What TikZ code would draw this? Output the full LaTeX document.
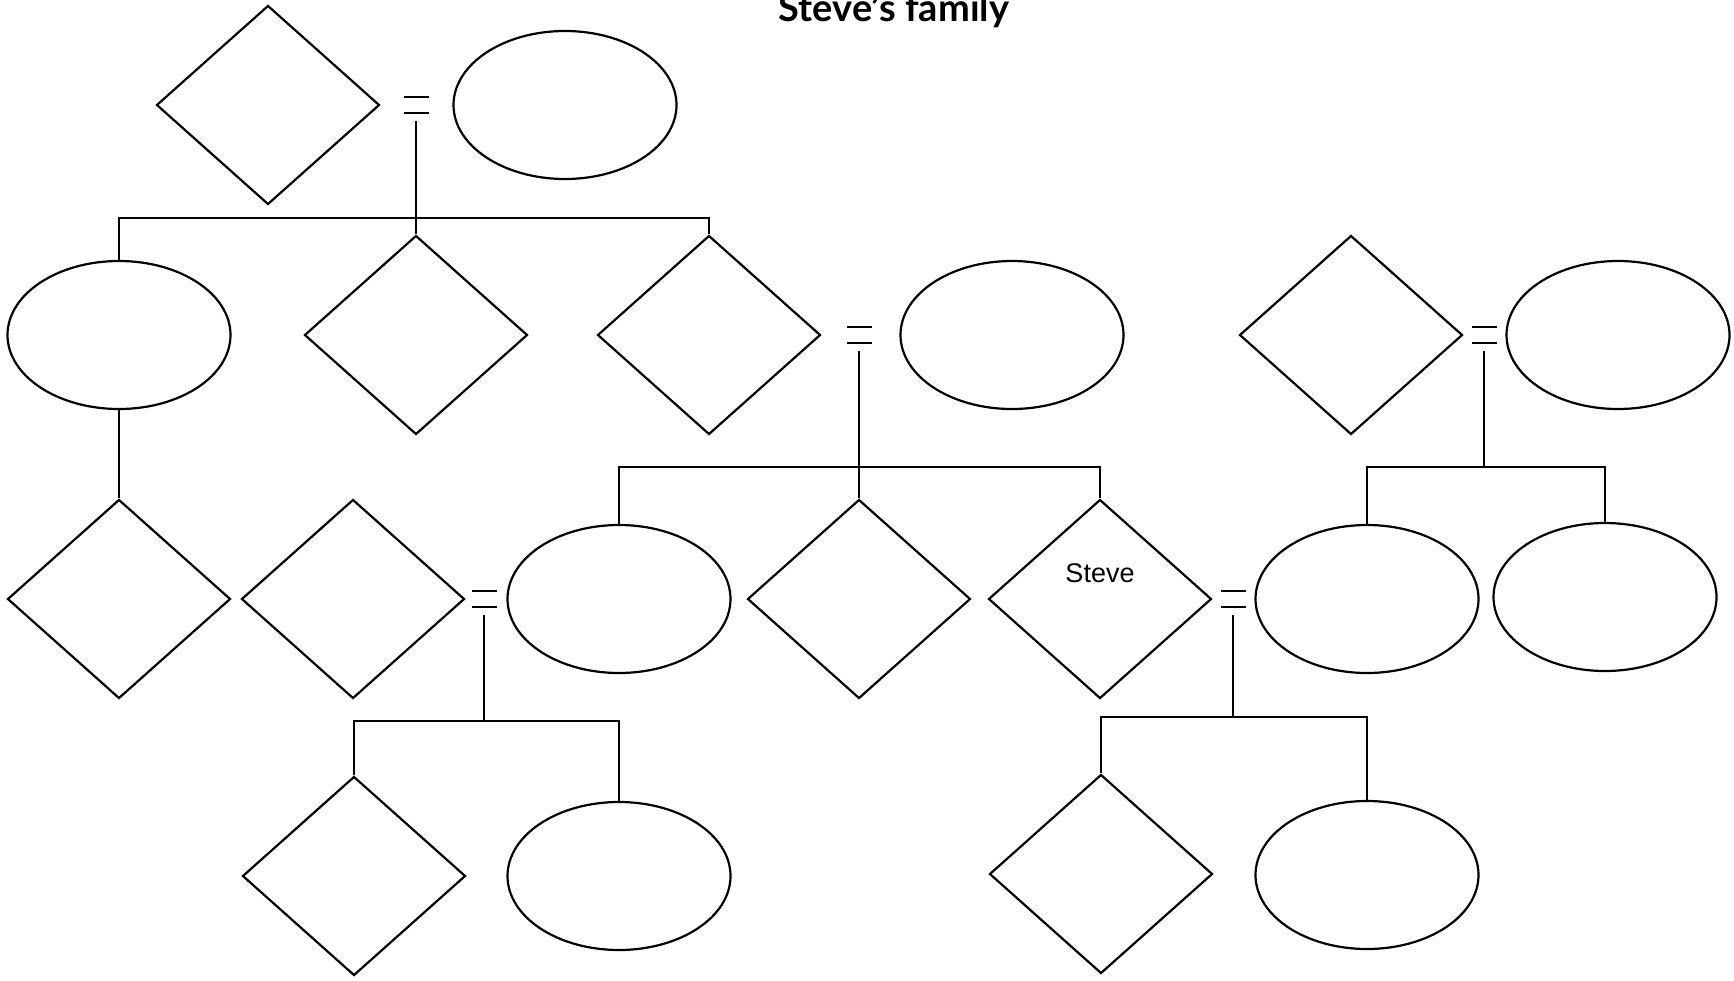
\documentclass[tikz,border=0pt]{standalone}
\usepackage{fontspec}
\setmainfont{Lato}
\newfontfamily\handfont{Liberation Sans}
\usetikzlibrary{shapes.geometric}
\begin{document}
\begin{tikzpicture}[x=1pt,y=-1pt,line width=2.2pt,
  male/.style={draw,diamond,minimum width=223pt,minimum height=199pt,inner sep=0pt},
  female/.style={draw,ellipse,minimum width=223pt,minimum height=148pt,inner sep=0pt},
  eqsign/.pic={\draw[line width=2.2pt] (-12.5,-8.3) -- (12.5,-8.3) (-12.5,8.3) -- (12.5,8.3);}]
\useasboundingbox (0,0) rectangle (1734,980);
\node[font=\bfseries\fontsize{38}{42}\selectfont,anchor=base] (title) at (894,21) {Steve{\char"27}s family};
% generation 1
\node[male] (gf) at (268,105) {};
\node[female] (gm) at (565,105) {};
\coordinate (m1) at (416,105); \pic at (m1) {eqsign};
% generation 2
\node[female] (a1) at (119,335) {};
\node[male] (a2) at (416,335) {};
\node[male] (a3) at (709,335) {};
\coordinate (m2) at (859,335); \pic at (m2) {eqsign};
\node[female] (a3w) at (1012,335) {};
\node[male] (b0) at (1351,335) {};
\coordinate (m3) at (1484,335); \pic at (m3) {eqsign};
\node[female] (b0w) at (1618,335) {};
% generation 3
\node[male] (a1c) at (119,599) {};
\node[male] (c1h) at (353,599) {};
\coordinate (m4) at (484,599); \pic at (m4) {eqsign};
\node[female] (c1) at (619,599) {};
\node[male] (c2) at (859,599) {};
\node[male] (steve) at (1100,599) {};
\node[font=\handfont\fontsize{27}{30}\selectfont] (stevename) at (1100,573) {Steve};
\coordinate (m5) at (1233,599); \pic at (m5) {eqsign};
\node[female] (b1) at (1367,599) {};
\node[female] (b2) at (1605,597) {};
% generation 4
\node[male] (d1) at (354,876) {};
\node[female] (d2) at (619,876) {};
\node[male] (e1) at (1101,874) {};
\node[female] (e2) at (1367,875) {};
% connectors
\coordinate (bar1) at (416,218);
\draw (m1) ++(0,16) -- (a2.north);
\draw (a1.north) |- (bar1) -| (a3.north);
\draw (a1.south) -- (a1c.north);
\coordinate (bar2) at (859,467);
\draw (m2) ++(0,16) -- (c2.north);
\draw (c1.north) |- (bar2) -| (steve.north);
\coordinate (bar3) at (1484,467);
\draw (m3) ++(0,16) -- (bar3);
\draw (b1.north) |- (bar3) -| (b2.north);
\coordinate (bar4) at (484,721);
\draw (m4) ++(0,16) -- (bar4);
\draw (d1.north) |- (bar4) -| (d2.north);
\coordinate (bar5) at (1233,717);
\draw (m5) ++(0,16) -- (bar5);
\draw (e1.north) |- (bar5) -| (e2.north);
\end{tikzpicture}
\end{document}
